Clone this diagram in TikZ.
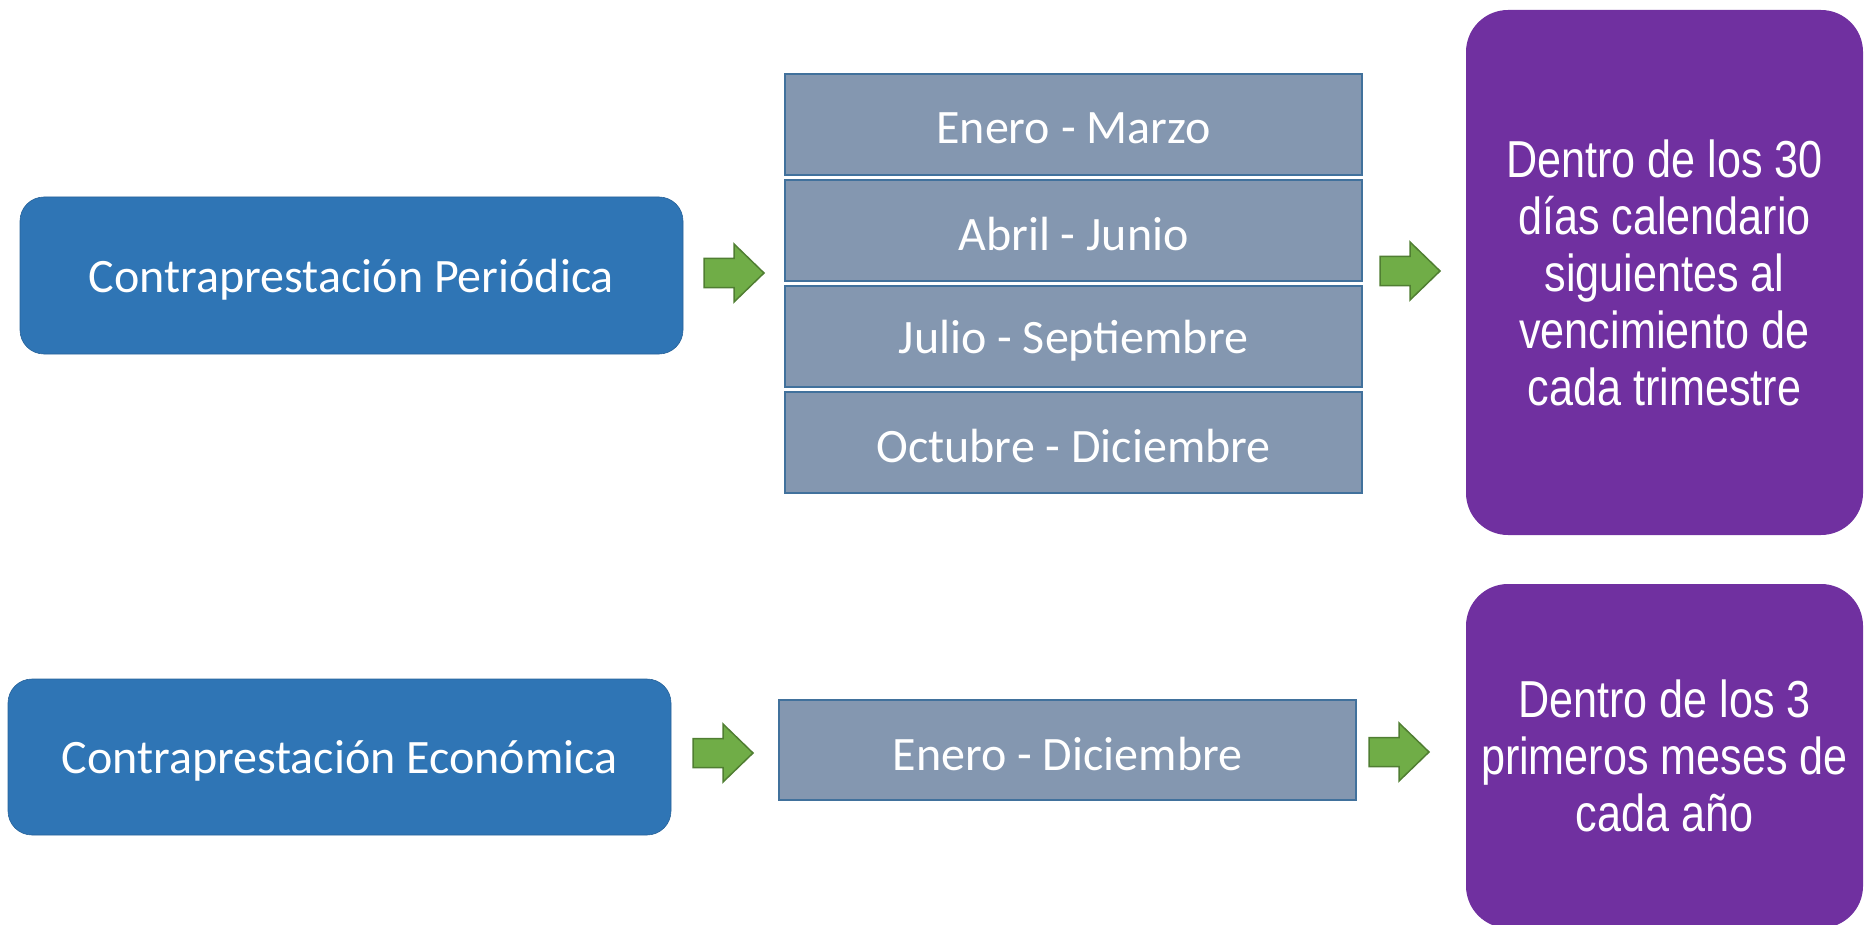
\documentclass[tikz,border=0pt]{standalone}
\usepackage{fontspec}
\setmainfont{Carlito}
\newfontfamily\narrowfont[FakeStretch=0.83]{Liberation Sans}
\newcommand\lowtxt[1]{\raisebox{-4pt}[\height][\depth]{#1}}
\definecolor{boxblue}{HTML}{2F75B5}
\definecolor{boxgray}{HTML}{8497B0}
\definecolor{grayedge}{HTML}{41719C}
\definecolor{boxpurple}{HTML}{7030A0}
\definecolor{arrowgreen}{HTML}{70AD47}
\definecolor{arrowedge}{HTML}{507E32}
\tikzset{
  bluebox/.style={rectangle, rounded corners=24pt, fill=boxblue, draw=boxblue!85!black, line width=0.6pt,
    text=white, font=\fontsize{48}{56}\selectfont, inner sep=0pt},
  graybox/.style={rectangle, fill=boxgray, draw=grayedge, line width=2.2pt, minimum width=577pt,
    text=white, font=\fontsize{48}{56}\selectfont, inner sep=0pt},
  purplebox/.style={rectangle, rounded corners=42pt, fill=boxpurple, minimum width=397pt,
    text=white, font=\narrowfont\fontsize{52}{57}\selectfont, align=center, inner sep=0pt},
  garrow/.pic={
    \draw[fill=arrowgreen, draw=arrowedge, line width=1.5pt, line join=miter]
      (0,-14.5) -- (30,-14.5) -- (30,-29) -- (60,0) -- (30,29) -- (30,14.5) -- (0,14.5) -- cycle;
  }
}
\begin{document}
\begin{tikzpicture}[x=1pt,y=-1pt]
\useasboundingbox (0,0) rectangle (1870,925);
\begin{scope}
\clip (0,0) rectangle (1870,925);
% left boxes
\node[bluebox, minimum width=663pt, minimum height=157pt] (cp) at (351.5,275.5) {\lowtxt{Contraprestación Periódica}};
\node[bluebox, minimum width=663pt, minimum height=156pt] (ce) at (339.5,757) {\lowtxt{Contraprestación Económica}};
% quarters
\node[graybox, minimum height=101pt] (q1) at (1073.5,124.5) {\lowtxt{Enero - Marzo}};
\node[graybox, minimum height=101pt] (q2) at (1073.5,230.5) {\lowtxt{Abril - Junio}};
\node[graybox, minimum height=101pt] (q3) at (1073.5,336.5) {\lowtxt{Julio - Septiembre}};
\node[graybox, minimum height=101pt] (q4) at (1073.5,442.5) {\lowtxt{Octubre - Diciembre}};
\node[graybox, minimum height=100pt] (yr) at (1067.5,750) {\lowtxt{Enero - Diciembre}};
% purple boxes
\node[purplebox, minimum height=525pt] (p1) at (1664.5,272.5)
  {Dentro de los 30\\días calendario\\siguientes al\\vencimiento de\\cada trimestre};
\node[purplebox, minimum height=344pt] (p2) at (1664.5,756)
  {Dentro de los 3\\primeros meses de\\cada año};
% block arrows
\pic (a1) at (704,273) {garrow};
\pic (a2) at (1380,271) {garrow};
\pic (a3) at (693,753) {garrow};
\pic (a4) at (1369,752) {garrow};
\end{scope}
\end{tikzpicture}
\end{document}
